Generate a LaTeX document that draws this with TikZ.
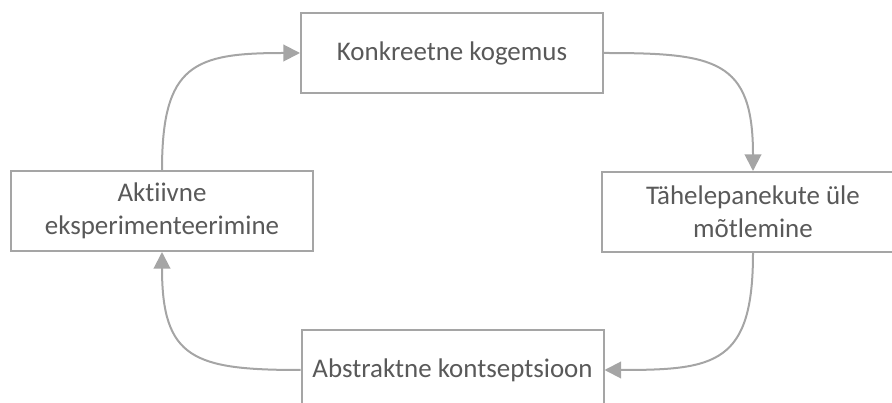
\documentclass[tikz,border=0pt]{standalone}
\usepackage{fontspec}
\setmainfont{Carlito}[Ligatures=NoCommon]
\usetikzlibrary{arrows.meta}
\definecolor{linegray}{HTML}{A5A5A5}
\definecolor{textgray}{HTML}{595959}
\begin{document}
\begin{tikzpicture}[x=0.75pt, y=0.75pt,
  stage/.style={draw=linegray, line width=1.5pt, fill=white, minimum width=226.5pt, minimum height=60pt, inner sep=0pt, align=center, text=textgray, font=\fontsize{20.2}{24.5}\selectfont},
  cycle/.style={draw=linegray, line width=1.5pt, -{Triangle[length=12.5pt,width=12.5pt]}, looseness=1.5}]
\useasboundingbox (0,0) rectangle (892,403);
\node (konkreetne) at (452,350) [stage] {Konkreetne kogemus};
\node (tahelepanek) at (753,191) [stage] {Tähelepanekute üle\\mõtlemine};
\node (abstraktne) at (452.5,33) [stage] {Abstraktne kontseptsioon};
\node (aktiivne) at (162,192) [stage] {Aktiivne\\eksperimenteerimine};
\draw [cycle] (aktiivne.north) to[out=90, in=180] (konkreetne.west);
\draw [cycle] (konkreetne.east) to[out=0, in=90] (tahelepanek.north);
\draw [cycle] (tahelepanek.south) to[out=-90, in=0] (abstraktne.east);
\draw [cycle] (abstraktne.west) to[out=180, in=-90] (aktiivne.south);
\end{tikzpicture}
\end{document}
